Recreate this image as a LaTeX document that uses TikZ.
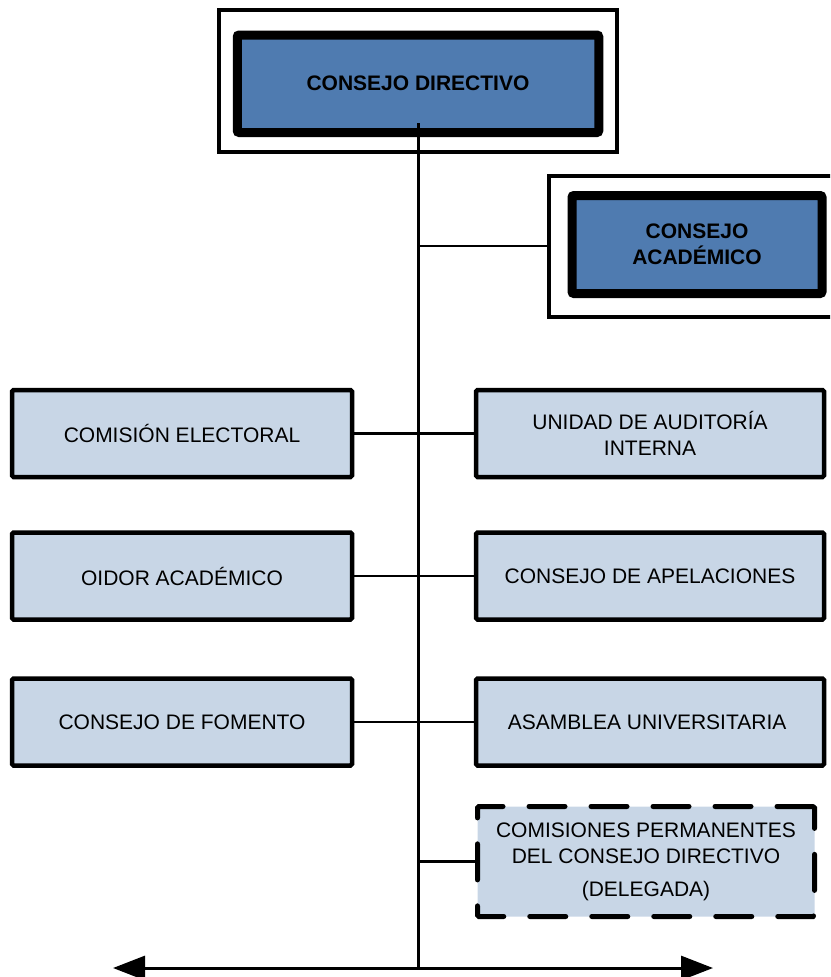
\documentclass[tikz,border=0pt]{standalone}
\usepackage{fontspec}
\setmainfont{Liberation Sans}
\usetikzlibrary{arrows.meta}
\definecolor{headblue}{RGB}{79,123,176}
\definecolor{unitblue}{RGB}{200,214,230}
\def\trunkx{418}
\def\tiplen{32pt}

\begin{document}
\begin{tikzpicture}[x=1pt, y=-1pt,
    nodes = {font=\fontsize{21}{26}\selectfont, align=center, inner sep=0pt},
    framebox/.style = {draw, line width=4pt},
    headbox/.style = {draw, line width=9pt, fill=headblue, rounded corners=2pt,
      font=\fontsize{21}{26}\selectfont\bfseries},
    unitbox/.style = {draw, line width=4.5pt, fill=unitblue, rounded corners=1.5pt,
      minimum height=87pt},
    delegbox/.style = {unitbox, line width=5pt, dash pattern=on 36pt off 26pt,
      line cap=round},
    link/.style = {line width=2.5pt}]
  \useasboundingbox (0,0) rectangle (830,977);
  \clip (0,0) rectangle (830,977);

  % Governing boards, each inside a white frame
  \node[framebox, minimum width=397.5pt, minimum height=142pt] (dirframe) at (417.75,81) {};
  \node[headbox, minimum width=361.5pt, minimum height=97.5pt] (dir) at (418,83.75) {CONSEJO DIRECTIVO};
  \node[framebox, minimum width=297pt, minimum height=141pt] (acaframe) at (697,246) {};
  \node[headbox, minimum width=250pt, minimum height=98pt] (aca) at (697,244.5) {CONSEJO\\ACADÉMICO};

  % Main line down from the board
  \coordinate (trunktop) at (\trunkx,123);
  \coordinate (trunkbot) at (\trunkx,968);
  \coordinate (leftend) at (113,968);
  \coordinate (rightend) at (713,968);
  \draw[link, line width=3pt] (trunktop) -- (trunkbot);
  \draw[link] (acaframe.west) -- (acaframe.west -| trunktop);

  % Pairs of units on both sides of the line
  \foreach \y/\lname/\ltext/\rname/\rtext in {
      433.5/elect/COMISIÓN ELECTORAL/audit/{UNIDAD DE AUDITORÍA\\INTERNA},
      576/oidor/OIDOR ACADÉMICO/apela/CONSEJO DE APELACIONES,
      722/foment/CONSEJO DE FOMENTO/asamb/ASAMBLEA UNIVERSITARIA
    } {
      \node[unitbox, minimum width=340pt] (\lname) at (182,\y) {\ltext};
      \node[unitbox, minimum width=348pt] (\rname) at (650,\y) {\rtext};
      \draw[link] (\lname.east) -- (\rname.west);  % passes across the main line
    };

  % Delegated commissions
  \node[delegbox, minimum width=337pt, minimum height=110pt] (perman) at (646,861.5)
    {COMISIONES PERMANENTES\\DEL CONSEJO DIRECTIVO\\[7pt](DELEGADA)};
  \draw[link] (perman.west) -- (perman.west -| trunktop);

  % Arrow at the foot
  \draw[line width=3pt, {Triangle[length=\tiplen,width=24pt]}-{Triangle[length=\tiplen,width=24pt]}]
    (leftend) -- (rightend);
\end{tikzpicture}
\end{document}
